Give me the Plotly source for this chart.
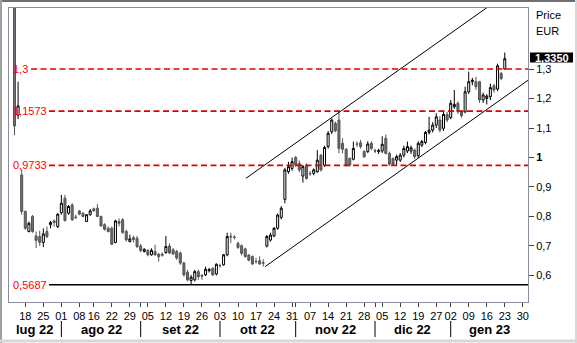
import plotly.graph_objects as go

# ---------------- data ----------------
# trading-day index (0 = Mon 18 Jul 2022; weekends and 15 Aug / 26 Dec skipped)
day_index = list(range(-3, 134))

opens = [1.62, 1.144, 0.941, 0.817, 0.749, 0.800, 0.734, 0.732, 0.712, 0.749,
         0.772, 0.785, 0.766, 0.813, 0.862, 0.811, 0.839, 0.798, 0.819, 0.811,
         0.783, 0.806, 0.826, 0.828, 0.800, 0.772, 0.760, 0.760, 0.712, 0.783,
         0.789, 0.749, 0.715, 0.728, 0.726, 0.700, 0.681, 0.685, 0.670, 0.681,
         0.672, 0.672, 0.678, 0.700, 0.687, 0.681, 0.676, 0.642, 0.611, 0.583,
         0.585, 0.613, 0.600, 0.602, 0.616, 0.624, 0.605, 0.634, 0.636, 0.670,
         0.733, 0.730, 0.709, 0.701, 0.690, 0.669, 0.664, 0.648, 0.650, 0.643,
         0.700, 0.720, 0.734, 0.760, 0.797, 0.858, 0.952, 0.963, 1.000, 0.980,
         0.937, 0.974, 0.946, 0.946, 0.952, 1.008, 0.974, 1.037, 1.087, 1.116,
         1.127, 1.048, 1.028, 0.997, 0.994, 1.046, 1.050, 1.020, 1.020, 1.048,
         1.023, 1.020, 1.022, 1.065, 1.014, 0.997, 0.991, 0.991, 1.008, 1.022,
         1.022, 1.025, 1.006, 1.042, 1.051, 1.085, 1.093, 1.110, 1.127, 1.099,
         1.146, 1.135, 1.172, 1.184, 1.155, 1.155, 1.223, 1.257, 1.257, 1.257,
         1.195, 1.200, 1.206, 1.243, 1.232, 1.285, 1.300]

closes = [1.107, 1.175, 0.817, 0.760, 0.777, 0.749, 0.719, 0.712, 0.741, 0.732,
          0.780, 0.780, 0.808, 0.845, 0.786, 0.834, 0.789, 0.797, 0.808, 0.800,
          0.806, 0.819, 0.820, 0.800, 0.768, 0.757, 0.749, 0.706, 0.785, 0.777,
          0.746, 0.721, 0.724, 0.722, 0.698, 0.685, 0.689, 0.670, 0.685, 0.670,
          0.664, 0.669, 0.698, 0.676, 0.673, 0.659, 0.642, 0.602, 0.585, 0.594,
          0.613, 0.596, 0.598, 0.621, 0.620, 0.602, 0.638, 0.633, 0.670, 0.732,
          0.731, 0.729, 0.695, 0.675, 0.664, 0.652, 0.639, 0.647, 0.639, 0.642,
          0.732, 0.737, 0.760, 0.805, 0.828, 0.958, 0.969, 0.986, 0.974, 0.958,
          0.969, 0.929, 0.945, 0.958, 0.991, 0.958, 1.034, 1.082, 1.127, 1.091,
          1.031, 1.028, 0.975, 0.975, 1.031, 1.045, 1.037, 1.003, 1.046, 1.031,
          1.022, 1.024, 1.045, 1.014, 0.977, 0.977, 1.003, 1.008, 1.031, 1.037,
          1.033, 1.003, 1.048, 1.054, 1.085, 1.093, 1.110, 1.138, 1.093, 1.146,
          1.127, 1.184, 1.180, 1.155, 1.142, 1.223, 1.257, 1.262, 1.240, 1.195,
          1.212, 1.208, 1.237, 1.229, 1.311, 1.268, 1.335]

highs = [1.70, 1.257, 0.960, 0.820, 0.783, 0.805, 0.749, 0.752, 0.760, 0.766,
         0.785, 0.790, 0.811, 0.873, 0.873, 0.839, 0.845, 0.806, 0.822, 0.815,
         0.808, 0.825, 0.830, 0.842, 0.803, 0.777, 0.766, 0.766, 0.789, 0.794,
         0.794, 0.755, 0.738, 0.735, 0.734, 0.707, 0.692, 0.689, 0.692, 0.704,
         0.676, 0.678, 0.734, 0.709, 0.693, 0.687, 0.681, 0.647, 0.619, 0.602,
         0.619, 0.620, 0.605, 0.630, 0.626, 0.628, 0.641, 0.640, 0.673, 0.745,
         0.745, 0.737, 0.715, 0.705, 0.694, 0.673, 0.668, 0.660, 0.665, 0.655,
         0.737, 0.745, 0.764, 0.810, 0.835, 0.965, 0.985, 1.000, 1.005, 0.990,
         0.975, 0.980, 0.955, 0.963, 1.025, 1.012, 1.040, 1.090, 1.132, 1.122,
         1.159, 1.065, 1.032, 1.000, 1.054, 1.055, 1.060, 1.025, 1.055, 1.055,
         1.030, 1.030, 1.072, 1.078, 1.020, 1.000, 1.010, 1.015, 1.040, 1.054,
         1.040, 1.030, 1.055, 1.060, 1.090, 1.138, 1.120, 1.150, 1.140, 1.160,
         1.155, 1.195, 1.229, 1.190, 1.160, 1.240, 1.291, 1.270, 1.274, 1.260,
         1.220, 1.215, 1.250, 1.250, 1.318, 1.290, 1.356]

lows = [1.076, 1.130, 0.806, 0.755, 0.746, 0.745, 0.693, 0.700, 0.696, 0.726,
        0.760, 0.765, 0.760, 0.806, 0.783, 0.806, 0.785, 0.791, 0.804, 0.797,
        0.781, 0.803, 0.815, 0.798, 0.766, 0.752, 0.746, 0.703, 0.709, 0.766,
        0.741, 0.715, 0.712, 0.712, 0.693, 0.678, 0.678, 0.665, 0.667, 0.667,
        0.647, 0.664, 0.673, 0.672, 0.670, 0.653, 0.636, 0.596, 0.580, 0.5687,
        0.580, 0.585, 0.585, 0.598, 0.610, 0.598, 0.600, 0.627, 0.633, 0.665,
        0.710, 0.722, 0.690, 0.668, 0.660, 0.648, 0.635, 0.640, 0.636, 0.630,
        0.695, 0.715, 0.730, 0.755, 0.790, 0.845, 0.945, 0.955, 0.968, 0.950,
        0.915, 0.925, 0.938, 0.940, 0.948, 0.952, 0.968, 1.030, 1.080, 1.085,
        1.014, 1.014, 0.969, 0.969, 0.990, 1.035, 1.030, 0.998, 1.015, 1.025,
        1.015, 1.012, 1.015, 1.010, 0.972, 0.972, 0.972, 0.985, 1.000, 1.015,
        1.012, 0.995, 0.998, 1.035, 1.045, 1.078, 1.085, 1.100, 1.085, 1.090,
        1.120, 1.130, 1.165, 1.148, 1.135, 1.150, 1.215, 1.245, 1.230, 1.185,
        1.185, 1.180, 1.195, 1.220, 1.225, 1.262, 1.298]

last_price_text = "1,3350"

# horizontal reference levels
level_values = [1.3, 1.1573, 0.9733, 0.5687]
level_labels = ["1,3", "1,1573", "0,9733", "0,5687"]

# trend channel anchor points (trading-day index, price)
upper_x = [61.2, 131.0]
upper_y = [0.9295, 1.5339]
lower_x = [66.5, 142.0]
lower_y = [0.6298, 1.2840]

# x-axis ticks (trading-day index of Mondays) and labels
week_ticks = [0, 5, 10, 15, 19, 24, 29, 34, 39, 44, 49, 54, 59, 64, 69, 74, 79,
              84, 89, 94, 99, 104, 109, 114, 118, 123, 128, 133, 138]
week_labels = ["18", "25", "01", "08", "16", "22", "29", "05", "12", "19", "26",
               "03", "10", "17", "24", "31", "07", "14", "21", "28", "05", "12",
               "19", "27", "02", "09", "16", "23", "30"]
# first trading day of each month
month_starts = [10, 32, 54, 75, 97, 118]
month_names = ["lug 22", "ago 22", "set 22", "ott 22", "nov 22", "dic 22", "gen 23"]

# y-axis ticks
y_ticks = [0.6, 0.7, 0.8, 0.9, 1.0, 1.1, 1.2, 1.3]
y_labels = ["0,6", "0,7", "0,8", "0,9", "<b>1</b>", "1,1", "1,2", "1,3"]

# ---------------- layout geometry ----------------
W, H = 577, 343
L, R, T, B = 9, 49, 8, 41
PW, PH = W - L - R, H - T - B
X_RANGE = [-4.52, 139.44]
Y_RANGE = [0.510, 1.507]


def px_x(px):
    return (px - L) / PW


def px_y(py):
    return (H - B - py) / PH


FONT = "Liberation Sans, Arial, sans-serif"

fig = go.Figure()

fig.add_trace(go.Candlestick(
    x=day_index, open=opens, high=highs, low=lows, close=closes,
    increasing=dict(line=dict(color="black", width=1), fillcolor="white"),
    decreasing=dict(line=dict(color="#555555", width=1), fillcolor="#6e6e6e"),
    whiskerwidth=0, showlegend=False, hoverinfo="skip"))

for xs, ys in ((upper_x, upper_y), (lower_x, lower_y)):
    fig.add_trace(go.Scatter(x=xs, y=ys, mode="lines",
                             line=dict(color="black", width=1),
                             showlegend=False, hoverinfo="skip"))

shapes = []
annotations = []

# reference levels
level_x0 = [31, 49, 49, 49]
for v, lab, x0 in zip(level_values, level_labels, level_x0):
    solid = (v == level_values[-1])
    shapes.append(dict(type="line", xref="paper", yref="y",
                       x0=px_x(x0), x1=1, y0=v, y1=v,
                       line=dict(color="black" if solid else "#e00000",
                                 width=1.5 if solid else 1.6,
                                 dash="solid" if solid else "6px,3.5px")))
    annotations.append(dict(xref="paper", yref="y", x=px_x(11), y=v,
                            text=lab, showarrow=False, xanchor="left",
                            yanchor="middle",
                            font=dict(family=FONT, size=11, color="#ff0000")))

# month separators and labels
for m in month_starts:
    shapes.append(dict(type="line", xref="x", yref="paper", x0=m, x1=m,
                       y0=px_y(321), y1=px_y(337),
                       line=dict(color="black", width=1)))
bounds = [X_RANGE[0]] + month_starts + [X_RANGE[1]]
for i, name in enumerate(month_names):
    annotations.append(dict(xref="x", yref="paper",
                            x=(bounds[i] + bounds[i + 1]) / 2, y=px_y(329.5),
                            text="<b>%s</b>" % name, showarrow=False,
                            xanchor="center", yanchor="middle",
                            font=dict(family=FONT, size=13, color="black")))

# last price box
shapes.append(dict(type="rect", xref="paper", yref="paper",
                   x0=px_x(530), x1=px_x(573), y0=px_y(62.5), y1=px_y(52.5),
                   fillcolor="black", line=dict(width=0)))
annotations.append(dict(xref="paper", yref="paper", x=px_x(551.5), y=px_y(57.5),
                        text="<b>%s</b>" % last_price_text, showarrow=False,
                        xanchor="center", yanchor="middle", borderpad=0,
                        font=dict(family=FONT, size=11, color="white")))

# Price / EUR captions
annotations.append(dict(xref="paper", yref="paper", x=px_x(534), y=px_y(15.5),
                        text="Price", showarrow=False, xanchor="left",
                        yanchor="middle",
                        font=dict(family=FONT, size=11, color="black")))
annotations.append(dict(xref="paper", yref="paper", x=px_x(534), y=px_y(31),
                        text="EUR", showarrow=False, xanchor="left",
                        yanchor="middle",
                        font=dict(family=FONT, size=11, color="black")))

# outer window border
shapes.append(dict(type="line", xref="paper", yref="paper",
                   x0=px_x(0), x1=px_x(577), y0=px_y(1), y1=px_y(1),
                   line=dict(color="#707070", width=2)))
shapes.append(dict(type="line", xref="paper", yref="paper",
                   x0=px_x(1), x1=px_x(1), y0=px_y(0), y1=px_y(343),
                   line=dict(color="#a0a0a0", width=2)))
shapes.append(dict(type="line", xref="paper", yref="paper",
                   x0=px_x(576), x1=px_x(576), y0=px_y(0), y1=px_y(343),
                   line=dict(color="#d8d8d8", width=2)))
shapes.append(dict(type="line", xref="paper", yref="paper",
                   x0=px_x(0), x1=px_x(577), y0=px_y(341), y1=px_y(341),
                   line=dict(color="#d8d8d8", width=3)))

tickvals = week_ticks + [32, 75, 97]
ticktext = week_labels + ["", "", ""]

fig.update_layout(
    width=W, height=H,
    margin=dict(l=L, r=R, t=T, b=B, pad=0),
    paper_bgcolor="white", plot_bgcolor="white",
    boxgap=0.2,
    showlegend=False,
    shapes=shapes, annotations=annotations,
    xaxis=dict(range=X_RANGE, rangeslider=dict(visible=False),
               showgrid=False, zeroline=False, showline=True, mirror=True,
               linecolor="#8c8c9c", linewidth=1,
               ticks="outside", ticklen=4, tickcolor="#404040",
               tickvals=tickvals, ticktext=ticktext, tickangle=0,
               tickfont=dict(family=FONT, size=11, color="black"),
               fixedrange=True),
    yaxis=dict(range=Y_RANGE, side="right",
               showgrid=False, zeroline=False, showline=True, mirror=True,
               linecolor="#8c8c9c", linewidth=1,
               ticks="outside", ticklen=5, tickcolor="#404040",
               tickvals=y_ticks, ticktext=y_labels,
               tickfont=dict(family=FONT, size=11, color="black"),
               fixedrange=True),
)

fig.write_html("out.html")
